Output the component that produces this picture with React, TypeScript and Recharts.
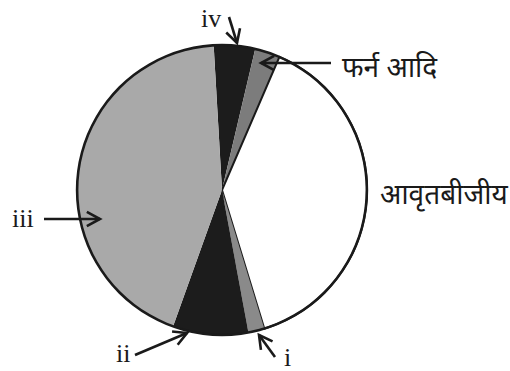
import { Cell, Pie, PieChart } from "recharts";

// slices clockwise from the top, share of the circle in %
const groups = ["iv", "फर्न आदि", "आवृतबीजीय", "i", "ii", "iii"];
const shares = [4.6, 2.8, 38.8, 1.8, 8.4, 43.6];
const fills = ["#1c1c1c", "#7c7c7c", "#ffffff", "#8a8a8a", "#1c1c1c", "#a9a9a9"];

const outline = [{ name: "outline", value: 100 }];

const data = groups.map((name, i) => ({ name, value: shares[i] }));

const INK = "#1a1a1a";
const serif = "'Liberation Serif', 'Times New Roman', serif";
const deva = "'Noto Sans Devanagari', 'Noto Sans', 'DejaVu Sans', sans-serif";

type Callout = {
  text: string;
  tx: number;
  ty: number;
  font: string;
  size: number;
  from?: [number, number];
  to?: [number, number];
};

const callouts: Callout[] = [
  { text: "iv", tx: 201, ty: 27, font: serif, size: 26, from: [229, 17], to: [237, 43] },
  { text: "फर्न आदि", tx: 342, ty: 77, font: deva, size: 28, from: [331, 63], to: [261, 63] },
  { text: "आवृतबीजीय", tx: 380, ty: 204, font: deva, size: 28 },
  { text: "iii", tx: 12, ty: 227, font: serif, size: 26, from: [44, 219], to: [100, 219] },
  { text: "ii", tx: 116, ty: 362, font: serif, size: 26, from: [135, 355], to: [187, 333] },
  { text: "i", tx: 284, ty: 366, font: serif, size: 26, from: [275, 357], to: [259, 335] },
];

function Arrow({ from, to }: { from: [number, number]; to: [number, number] }) {
  const [x1, y1] = from;
  const [x2, y2] = to;
  const a = Math.atan2(y2 - y1, x2 - x1);
  const len = 15;
  const spread = 0.5;
  const p1 = [x2 - len * Math.cos(a - spread), y2 - len * Math.sin(a - spread)];
  const p2 = [x2 - len * Math.cos(a + spread), y2 - len * Math.sin(a + spread)];
  return (
    <g stroke={INK} strokeWidth={2.6} fill="none" strokeLinecap="butt">
      <line x1={x1} y1={y1} x2={x2} y2={y2} />
      <polyline points={`${p1[0]},${p1[1]} ${x2},${y2} ${p2[0]},${p2[1]}`} />
    </g>
  );
}

export default function App() {
  return (
    <div style={{ position: "absolute", left: 0, top: 0, width: 510, height: 371, background: "#fff" }}>
      <PieChart width={510} height={371} margin={{ top: 0, right: 0, bottom: 0, left: 0 }}>
        <Pie
          data={data}
          dataKey="value"
          cx={222}
          cy={190}
          outerRadius={145}
          startAngle={93.3}
          endAngle={-266.7}
          isAnimationActive={false}
        >
          {data.map((d, i) => (
            <Cell
              key={d.name}
              fill={fills[i]}
              stroke={fills[i] === "#ffffff" ? INK : "none"}
              strokeWidth={fills[i] === "#ffffff" ? 2 : 0}
            />
          ))}
        </Pie>
        <Pie
          data={outline}
          dataKey="value"
          cx={222}
          cy={190}
          innerRadius={143.6}
          outerRadius={146.2}
          startAngle={90}
          endAngle={-270}
          fill={INK}
          stroke="none"
          isAnimationActive={false}
        />
      </PieChart>
      <svg
        width={510}
        height={371}
        style={{ position: "absolute", left: 0, top: 0, pointerEvents: "none" }}
      >
        {callouts.map((c) => (
          <g key={c.text}>
            {c.from && c.to && <Arrow from={c.from} to={c.to} />}
            <text x={c.tx} y={c.ty} fontFamily={c.font} fontSize={c.size} fill={INK}>
              {c.text}
            </text>
          </g>
        ))}
      </svg>
    </div>
  );
}
